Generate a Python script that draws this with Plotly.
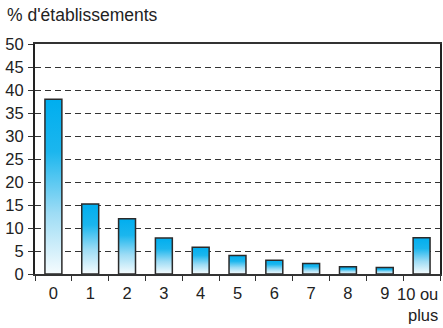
import plotly.graph_objects as go

# Share of establishments by count category
categories = ["0", "1", "2", "3", "4", "5", "6", "7", "8", "9", "10 ou<br>plus"]
values = [38.0, 15.2, 12.0, 7.8, 5.8, 4.0, 3.0, 2.3, 1.6, 1.4, 7.9]
y_ticks = [0, 5, 10, 15, 20, 25, 30, 35, 40, 45, 50]

BAR_W = 0.46
FONT = "Liberation Sans, Arial, sans-serif"
INK = "#222222"
TICK_SIZE = 16.5

fig = go.Figure()

# Each bar is a filled polygon so it can carry a vertical white-to-cyan gradient
for i, v in enumerate(values):
    x0, x1 = i - BAR_W / 2, i + BAR_W / 2
    fig.add_trace(go.Scatter(
        x=[x0, x0, x1, x1, x0],
        y=[0, v, v, 0, 0],
        mode="lines",
        fill="toself",
        fillgradient=dict(
            type="vertical",
            colorscale=[[0, "#f6fcfe"], [0.35, "#9ddcf5"], [0.7, "#1bb6ee"], [1, "#00aeef"]],
        ),
        line=dict(color="#2a2a2a", width=1.5),
        hoverinfo="text",
        text=f"{categories[i].replace('<br>', ' ')} : {v}",
        showlegend=False,
    ))

# The last category label is long, so it is right-aligned against the frame edge
tick_text = categories[:-1] + [""]
fig.add_annotation(
    text=categories[-1],
    xref="paper", yref="paper",
    x=1.0, y=0.0,
    xanchor="right", yanchor="top",
    align="right",
    yshift=-9,
    showarrow=False,
    font=dict(family=FONT, size=TICK_SIZE, color=INK),
)

fig.update_layout(
    width=443,
    height=328,
    margin=dict(l=35, r=1, t=44, b=54),
    paper_bgcolor="white",
    plot_bgcolor="white",
    font=dict(family=FONT, size=TICK_SIZE, color=INK),
    title=dict(
        text="% d'établissements",
        x=0.016, xanchor="left", xref="container",
        y=0.955, yanchor="middle", yref="container",
        font=dict(family=FONT, size=17.5, color=INK),
    ),
    xaxis=dict(
        range=[-0.5, 10.5],
        tickmode="array",
        tickvals=list(range(len(categories))),
        ticktext=tick_text,
        ticks="",
        showgrid=False,
        zeroline=False,
        showline=True,
        linecolor="#333333",
        linewidth=1.5,
        mirror=True,
        ticklabelstandoff=3,
        minor=dict(tickmode="linear", tick0=0.5, dtick=1, ticks="outside",
                   ticklen=5, tickcolor="#333333", tickwidth=1, showgrid=False),
        fixedrange=True,
    ),
    yaxis=dict(
        range=[0, 50],
        tickmode="array",
        tickvals=y_ticks,
        ticks="outside",
        ticklen=5,
        tickcolor="#333333",
        showgrid=True,
        gridcolor="#333333",
        gridwidth=1,
        griddash="6px,4px",
        zeroline=False,
        showline=True,
        linecolor="#222222",
        linewidth=2,
        mirror=True,
        ticklabelstandoff=1,
        fixedrange=True,
    ),
)

fig.write_html("out.html")
